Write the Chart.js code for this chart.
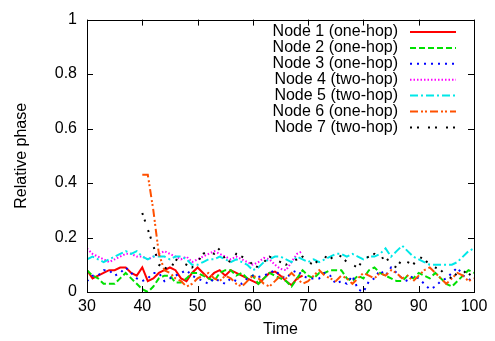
<!DOCTYPE html>
<html>
<head>
<meta charset="utf-8">
<script src="https://cdn.jsdelivr.net/npm/chart.js@4.4.1/dist/chart.umd.min.js"></script>
<style>
  body { margin: 0; background: #fff; }
  #wrap { width: 495px; height: 341px; }
</style>
</head>
<body>
<div id="wrap"><canvas id="myChart" width="495" height="341"></canvas></div>
<script>
const time = [30,31,32,33,34,35,36,37,38,39,40,41,42,43,44,45,46,47,48,49,
  50,51,52,53,54,55,56,57,58,59,60,61,62,63,64,65,66,67,68,69,
  70,71,72,73,74,75,76,77,78,79,80,81,82,83,84,85,86,87,88,89,
  90,91,92,93,94,95,96,97,98,99,100];

const xTicks = [30, 40, 50, 60, 70, 80, 90, 100];
const yTicks = [0, 0.2, 0.4, 0.6, 0.8, 1];

const seriesNames = ['Node 1 (one-hop)', 'Node 2 (one-hop)', 'Node 3 (one-hop)', 'Node 4 (two-hop)',
  'Node 5 (two-hop)', 'Node 6 (one-hop)', 'Node 7 (two-hop)'];

// node 1 and node 4 stop around t=69
const node1 = [0.08,0.05,0.06,0.07,0.08,0.08,0.09,0.09,0.07,0.06,
  0.09,0.04,0.05,0.07,0.08,0.09,0.08,0.05,0.04,0.07,
  0.09,0.07,0.05,0.07,0.08,0.06,0.08,0.07,0.06,0.05,
  0.04,0.03,0.05,0.07,0.075,0.06,0.04,0.025,0.05,0.06,
  null,null,null,null,null,null,null,null,null,null,
  null,null,null,null,null,null,null,null,null,null,
  null,null,null,null,null,null,null,null,null,null,null];

const node2 = [0.08,0.06,0.05,0.03,0.03,0.03,0.05,0.07,0.05,0.03,
  0.01,0.0,0.02,0.05,0.06,0.06,0.035,0.035,0.05,0.07,
  0.07,0.06,0.05,0.04,0.07,0.08,0.08,0.06,0.07,0.05,
  0.06,0.03,0.05,0.07,0.06,0.05,0.04,0.02,0.05,0.08,
  0.06,0.05,0.07,0.07,0.08,0.08,0.08,0.05,0.04,0.06,
  0.05,0.08,0.09,0.07,0.06,0.05,0.04,0.04,0.06,0.05,
  0.07,0.06,0.05,0.07,0.05,0.03,0.02,0.04,0.06,0.08,0.07];

const node3 = [0.04,0.06,0.06,0.08,0.08,0.06,0.07,0.09,0.07,0.05,
  0.04,0.05,0.07,0.07,0.04,0.05,0.06,0.07,0.08,0.06,
  0.05,0.04,0.03,0.05,0.04,0.03,0.05,0.04,0.03,0.05,
  0.06,0.055,0.06,0.07,0.08,0.06,0.05,0.07,0.08,0.06,
  0.05,0.05,0.05,0.07,0.06,0.03,0.04,0.03,0.06,0.01,
  0.0,0.04,0.05,0.08,0.06,0.09,0.07,0.05,0.04,0.06,
  0.05,0.03,0.01,0.02,0.04,0.05,0.07,0.09,0.06,0.05,0.03];

const node4 = [0.16,0.14,0.13,0.12,0.11,0.12,0.13,0.14,0.14,0.13,
  0.13,0.12,0.13,0.14,0.15,0.14,0.13,0.12,0.13,0.11,
  0.12,0.13,0.14,0.15,0.14,0.13,0.12,0.13,0.12,0.11,
  0.1,0.11,0.125,0.12,0.1,0.085,0.08,0.11,0.14,0.15,
  null,null,null,null,null,null,null,null,null,null,
  null,null,null,null,null,null,null,null,null,null,
  null,null,null,null,null,null,null,null,null,null,null];

const node5 = [0.12,0.13,0.12,0.11,0.12,0.13,0.14,0.15,0.14,0.15,
  0.13,0.12,0.13,0.13,0.13,0.12,0.13,0.13,0.12,0.1,
  0.1,0.11,0.12,0.12,0.13,0.12,0.11,0.12,0.11,0.1,
  0.08,0.09,0.11,0.12,0.13,0.13,0.12,0.11,0.13,0.12,
  0.11,0.12,0.11,0.12,0.13,0.14,0.14,0.13,0.14,0.13,
  0.12,0.13,0.13,0.14,0.16,0.13,0.15,0.17,0.15,0.13,
  0.12,0.11,0.1,0.1,0.1,0.1,0.1,0.11,0.13,0.15,0.16];

const node6 = [null,null,null,null,null,null,null,null,null,null,
  0.43,0.43,0.3,0.14,0.08,0.07,0.05,0.04,0.02,0.03,
  0.05,0.06,0.07,0.05,0.04,0.06,0.05,0.03,0.02,0.04,
  0.06,0.05,0.03,0.02,0.04,0.06,0.05,0.07,0.05,0.03,
  0.04,0.06,0.08,0.06,0.05,0.04,0.06,0.05,0.03,0.05,
  0.07,0.06,0.05,0.07,0.06,0.08,0.07,0.05,0.06,0.04,
  0.06,0.08,0.09,0.07,0.05,0.03,0.05,0.07,0.06,0.04,0.05];

const node7 = [null,null,null,null,null,null,null,null,null,null,
  0.29,0.23,0.17,0.1,0.09,0.08,0.12,0.11,0.1,0.09,
  0.11,0.14,0.15,0.14,0.16,0.12,0.11,0.14,0.13,0.12,
  0.1,0.09,0.11,0.13,0.12,0.11,0.1,0.11,0.12,0.13,
  0.11,0.1,0.12,0.13,0.12,0.14,0.13,0.11,0.1,0.09,
  0.12,0.13,0.14,0.12,0.13,0.1,0.09,0.12,0.11,0.1,
  0.13,0.12,0.1,0.09,0.08,0.06,0.05,0.07,0.08,0.06,0.08];

const allSeries = [node1, node2, node3, node4, node5, node6, node7];
const colors = ['#ff0000', '#00e000', '#0000ff', '#ff00ff', '#00e8e8', '#ff5000', '#000000'];
const dashes = [[], [6, 3], [2, 5], [1.5, 2], [8, 3, 2, 3], [8, 3, 2, 2, 2, 3], [2, 5, 2, 9]];

const toPoints = arr => time.map((t, i) => ({ x: t, y: arr[i] }));

const FONT = 'Liberation Sans, Arial, sans-serif';

// gnuplot style frame, inward ticks on all sides and the key
const framePlugin = {
  id: 'frame',
  afterDatasetsDraw(chart) {
    const ctx = chart.ctx;
    const a = chart.chartArea;
    const xs = chart.scales.x, ys = chart.scales.y;
    ctx.save();
    ctx.strokeStyle = '#000';
    ctx.lineWidth = 1;
    ctx.setLineDash([]);
    ctx.strokeRect(Math.round(a.left) + 0.5, Math.round(a.top) + 0.5,
      Math.round(a.right - a.left), Math.round(a.bottom - a.top));
    ctx.beginPath();
    xTicks.forEach(v => {
      const px = Math.round(xs.getPixelForValue(v)) + 0.5;
      ctx.moveTo(px, a.bottom); ctx.lineTo(px, a.bottom - 6);
      ctx.moveTo(px, a.top); ctx.lineTo(px, a.top + 6);
    });
    yTicks.forEach(v => {
      const py = Math.round(ys.getPixelForValue(v)) + 0.5;
      ctx.moveTo(a.left, py); ctx.lineTo(a.left + 6, py);
      ctx.moveTo(a.right, py); ctx.lineTo(a.right - 6, py);
    });
    ctx.stroke();

    // key
    ctx.font = '16px ' + FONT;
    ctx.textAlign = 'right';
    ctx.textBaseline = 'middle';
    chart.data.datasets.forEach((ds, i) => {
      const y = 32 + i * 15.9;
      ctx.fillStyle = '#000';
      ctx.fillText(ds.label, 398, y);
      ctx.strokeStyle = ds.borderColor;
      ctx.lineWidth = 2;
      ctx.setLineDash(ds.borderDash);
      ctx.beginPath();
      ctx.moveTo(410, y);
      ctx.lineTo(456, y);
      ctx.stroke();
    });
    ctx.restore();
  }
};

const graph = document.getElementById('myChart').getContext('2d');
const myChart = new Chart(graph, {
  type: 'line',
  data: {
    datasets: allSeries.map((arr, i) => ({
      label: seriesNames[i],
      data: toPoints(arr),
      borderColor: colors[i],
      borderDash: dashes[i],
      borderWidth: 2,
      pointRadius: 0,
      tension: 0,
      fill: false,
      order: 7 - i
    }))
  },
  options: {
    responsive: false,
    animation: false,
    devicePixelRatio: 1,
    layout: { padding: { top: 17, right: 21, left: 0, bottom: 0 } },
    plugins: { legend: { display: false }, tooltip: { enabled: false } },
    scales: {
      x: {
        type: 'linear',
        min: 30,
        max: 100,
        afterFit: s => { s.height = 49; },
        afterBuildTicks: s => { s.ticks = xTicks.map(v => ({ value: v })); },
        grid: { display: false, drawTicks: false },
        border: { display: false },
        ticks: { color: '#000', font: { size: 16, family: FONT }, padding: 5, maxRotation: 0,
          callback: v => String(v) },
        title: { display: true, text: 'Time', color: '#000', font: { size: 16, family: FONT }, padding: { top: 0, bottom: 2 } }
      },
      y: {
        min: 0,
        max: 1,
        afterFit: s => { s.width = 87; },
        afterBuildTicks: s => { s.ticks = yTicks.map(v => ({ value: v })); },
        grid: { display: false, drawTicks: false },
        border: { display: false },
        ticks: { color: '#000', font: { size: 16, family: FONT }, padding: 10,
          callback: v => String(v) },
        title: { display: true, text: 'Relative phase', color: '#000', font: { size: 16, family: FONT }, padding: { top: 12, bottom: 0 } }
      }
    }
  },
  plugins: [framePlugin]
});
</script>
</body>
</html>
